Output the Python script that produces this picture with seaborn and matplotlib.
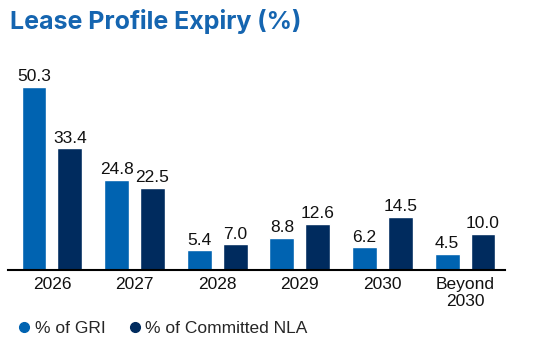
import seaborn as sns
import matplotlib.pyplot as plt
import pandas as pd

# Data
years = ['2026', '2027', '2028', '2029', '2030', 'Beyond\n2030']
gri = [50.3, 24.8, 5.4, 8.8, 6.2, 4.5]
nla = [33.4, 22.5, 7.0, 12.6, 14.5, 10.0]
series = ['% of GRI', '% of Committed NLA']
colors = ['#0063B1', '#002B5E']

data = pd.DataFrame({
    'Year': years * 2,
    'Value': gri + nla,
    'Series': [series[0]] * len(years) + [series[1]] * len(years)
})

sns.set_style('white')
plt.rcParams['font.family'] = ['Liberation Sans', 'DejaVu Sans']

fig = plt.figure(figsize=(5.41, 3.52), dpi=100)
ax = fig.add_axes([0.015, 0.233, 0.918, 0.597])

sns.barplot(data=data, x='Year', y='Value', hue='Series', palette=colors,
            width=0.87, gap=0.31, saturation=1, ax=ax, legend=False)

for cont in ax.containers:
    ax.bar_label(cont, fmt='%.1f', padding=2, fontsize=12.5, color='#111111')

ax.set_xlim(-0.53, 5.48)
ax.set_ylim(0, 57.7)
ax.set_xlabel('')
ax.set_ylabel('')
ax.set_yticks([])
ax.tick_params(axis='x', length=0, labelsize=12.5, pad=5, colors='#111111')
for s in ['top', 'right', 'left']:
    ax.spines[s].set_visible(False)
ax.spines['bottom'].set_color('black')
ax.spines['bottom'].set_linewidth(1.5)

# Legend
handles = [plt.Line2D([], [], marker='o', linestyle='', color=c, markersize=7)
           for c in colors]
fig.legend(handles, series, loc='lower left', bbox_to_anchor=(0.0, 0.0),
           ncol=2, frameon=False, fontsize=12.5, handletextpad=0.1,
           columnspacing=1.2, handlelength=1.0)

# Title
fig.text(0.018, 0.94, 'Lease Profile Expiry (%)', fontsize=18, fontweight='bold',
         color='#1565B0', family=['Inter', 'DejaVu Sans'], va='center', ha='left')

plt.savefig('out.png', dpi=100)
